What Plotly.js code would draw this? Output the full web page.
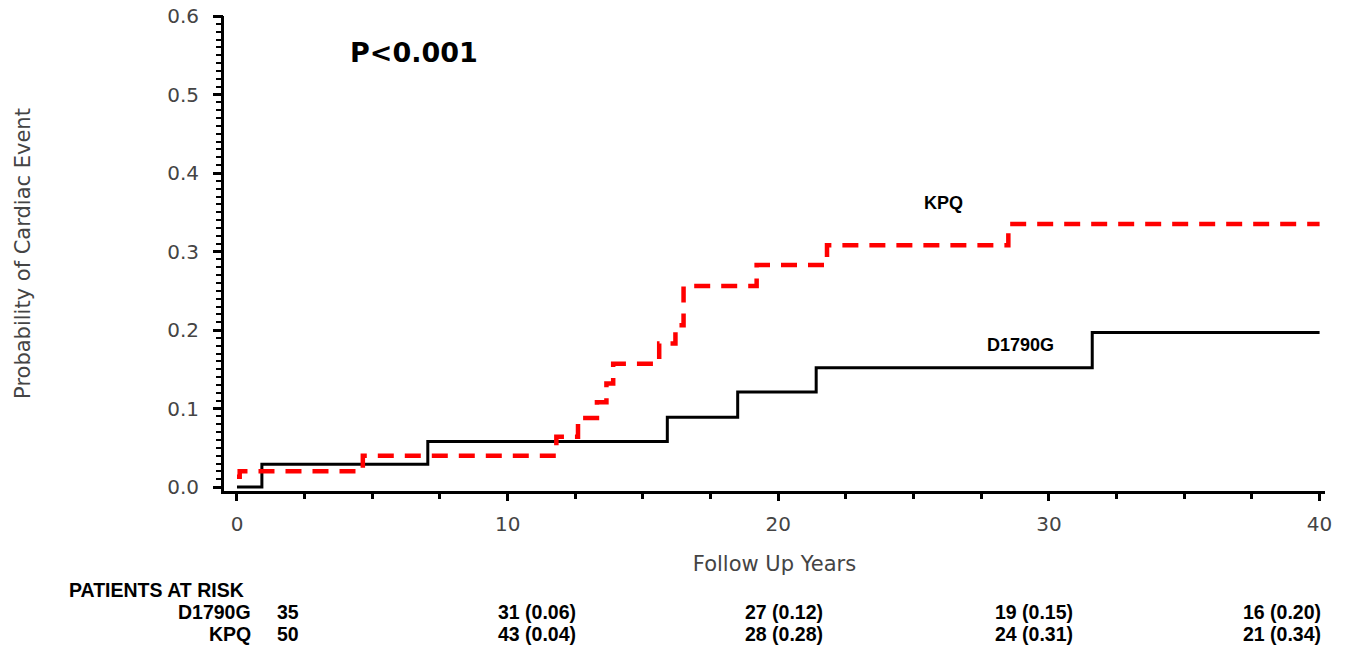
<!DOCTYPE html>
<html>
<head>
<meta charset="utf-8">
<script src="https://cdn.plot.ly/plotly-3.0.1.min.js"></script>
<style>html,body{margin:0;padding:0;background:#fff;}#chart{width:1353px;height:654px;}</style>
</head>
<body>
<div id="chart"></div>
<script>
// ---- data ----
const d1790gYears = [0, 0.92, 7.05, 15.9, 18.5, 21.4, 31.6, 40];
const d1790gProb  = [0, 0.029, 0.058, 0.089, 0.121, 0.152, 0.197, 0.197];
const kpqYears = [0, 0.1, 4.65, 11.8, 12.6, 13.3, 13.65, 13.9, 15.6, 16.2, 16.5, 19.2, 21.8, 28.5, 40];
const kpqProb  = [0.013, 0.02, 0.04, 0.064, 0.088, 0.108, 0.132, 0.157, 0.183, 0.206, 0.256, 0.283, 0.308, 0.335, 0.335];
const xTickVals = [0, 10, 20, 30, 40];
const yTickVals = [0, 0.1, 0.2, 0.3, 0.4, 0.5, 0.6];
const groups = ["D1790G", "KPQ"];
const riskD1790G = ["35", "31 (0.06)", "27 (0.12)", "19 (0.15)", "16 (0.20)"];
const riskKPQ    = ["50", "43 (0.04)", "28 (0.28)", "24 (0.31)", "21 (0.34)"];
const pText = "P<0.001";

// ---- layout geometry (pixels) ----
const W = 1353, H = 654;
const mL = 224, mR = 28, mT = 16, mB = 163;
const pw = W - mL - mR, ph = H - mT - mB;
const px2x = px => (px - mL) / pw;
const py2y = py => (H - mB - py) / ph;
const colPx = [288, 537, 784, 1034, 1282];
const rowPy = [612, 634];
const yRange = [-0.005, 0.6];

// minor y tick positions every 0.01, labels only on the major values
const yFineVals = [], yFineText = [];
for (let i = 0; i <= 60; i++) {
  yFineVals.push(i / 100);
  yFineText.push(i % 10 === 0 ? (i / 100).toFixed(1) : "");
}

const tableFont = {family: "Liberation Sans, Arial, sans-serif", size: 19.5, color: "#000", weight: "bold"};

const annotations = [
  {text: pText, xref: "x", yref: "y", x: 6.54, y: 0.553, showarrow: false,
   font: {family: "DejaVu Sans, sans-serif", size: 27, color: "#000", weight: "bold"}},
  {text: "KPQ", xref: "x", yref: "y", x: 26.1, y: 0.362, showarrow: false,
   font: {family: "Liberation Sans, Arial, sans-serif", size: 18, color: "#000", weight: "bold"}},
  {text: "D1790G", xref: "x", yref: "y", x: 28.96, y: 0.181, showarrow: false,
   font: {family: "Liberation Sans, Arial, sans-serif", size: 18, color: "#000", weight: "bold"}},
  {text: "PATIENTS AT RISK", xref: "paper", yref: "paper", x: px2x(67), y: py2y(590),
   xanchor: "left", yanchor: "middle", showarrow: false, font: tableFont}
];
[riskD1790G, riskKPQ].forEach((row, r) => {
  annotations.push({text: groups[r], xref: "paper", yref: "paper", x: px2x(253), y: py2y(rowPy[r]),
    xanchor: "right", yanchor: "middle", showarrow: false, font: tableFont});
  row.forEach((t, c) => {
    annotations.push({text: t, xref: "paper", yref: "paper", x: px2x(colPx[c]), y: py2y(rowPy[r]),
      xanchor: "center", yanchor: "middle", showarrow: false, font: tableFont});
  });
});

const traces = [
  {x: d1790gYears, y: d1790gProb, type: "scatter", mode: "lines", name: "D1790G",
   line: {shape: "hv", color: "#000", width: 3}},
  {x: kpqYears, y: kpqProb, type: "scatter", mode: "lines", name: "KPQ",
   line: {shape: "hv", color: "#ff0000", width: 4.5, dash: "16px,11px"}},
  {x: [0], y: [0], yaxis: "y2", type: "scatter", mode: "markers", marker: {opacity: 0}, hoverinfo: "skip"}
];

const tickFont = {family: "DejaVu Sans, sans-serif", size: 20, color: "#444"};

const layout = {
  width: W, height: H,
  margin: {l: mL, r: mR, t: mT, b: mB},
  paper_bgcolor: "#fff", plot_bgcolor: "#fff",
  showlegend: false,
  xaxis: {
    range: [-0.48, 40.2], tickmode: "linear", tick0: xTickVals[0], dtick: xTickVals[1] - xTickVals[0],
    showgrid: false, zeroline: false, showline: true, linecolor: "#000", linewidth: 3,
    ticks: "outside", ticklen: 7, tickwidth: 3, tickcolor: "#000",
    minor: {dtick: 2.5, tick0: 0, ticks: "outside", ticklen: 5, tickwidth: 3, tickcolor: "#000", showgrid: false},
    tickfont: tickFont, ticklabelstandoff: 6,
    title: {text: "Follow Up Years", font: {family: "DejaVu Sans, sans-serif", size: 21, color: "#444"}, standoff: 22}
  },
  yaxis: {
    range: yRange, tickmode: "array", tickvals: yFineVals, ticktext: yFineText,
    showgrid: false, zeroline: false, showline: true, linecolor: "#000", linewidth: 3,
    ticks: "outside", ticklen: 5, tickwidth: 2, tickcolor: "#000",
    tickfont: tickFont, ticklabelstandoff: 13,
    title: {text: "Probability of Cardiac Event", font: {family: "DejaVu Sans, sans-serif", size: 21, color: "#444"}, standoff: 131}
  },
  yaxis2: {
    overlaying: "y", side: "left", anchor: "x", range: yRange, tickmode: "array", tickvals: yTickVals,
    showgrid: false, zeroline: false, showline: false, showticklabels: false,
    ticks: "outside", ticklen: 10, tickwidth: 3, tickcolor: "#000", fixedrange: true
  },
  annotations: annotations
};

Plotly.newPlot("chart", traces, layout, {staticPlot: true, displayModeBar: false});
</script>
</body>
</html>
